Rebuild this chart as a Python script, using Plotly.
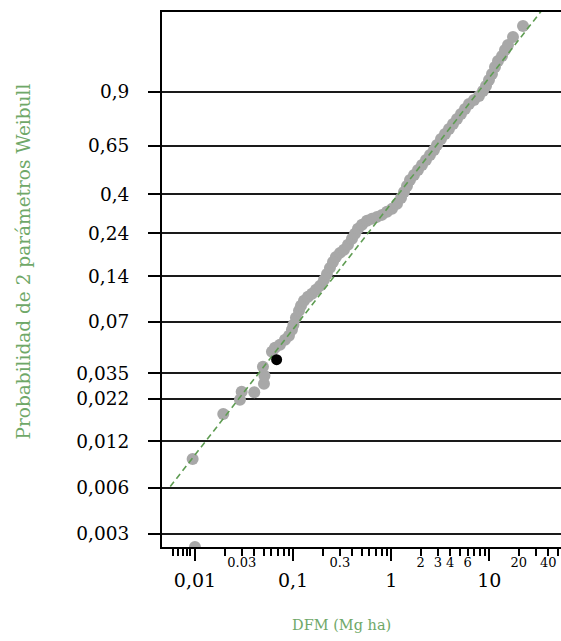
import numpy as np
import plotly.graph_objects as go

# ---- data ----
dfm = [0.01, 0.00947, 0.01943, 0.02875, 0.02992, 0.04022, 0.05051, 0.0511, 0.0493,
       0.0609, 0.0654, 0.0735, 0.0827, 0.0908, 0.0974, 0.1009, 0.1070, 0.1149, 0.1204,
       0.1292, 0.1419, 0.1559, 0.1712, 0.1880, 0.2065, 0.2216, 0.2377, 0.2551, 0.2737,
       0.3006, 0.3303, 0.3627, 0.3985, 0.4276, 0.4587, 0.5040, 0.5667, 0.6371, 0.7166,
       0.8057, 0.9061, 1.019, 1.146, 1.259, 1.351, 1.449, 1.555, 1.708, 1.876, 2.061,
       2.263, 2.486, 2.731, 2.931, 3.219, 3.535, 3.883, 4.266, 4.685, 5.146, 5.653,
       6.210, 6.982, 7.852, 8.627, 9.256, 9.929, 10.65, 11.43, 12.26, 13.48, 14.45,
       15.51, 17.44, 22.06]
prob = [0.00247, 0.00922, 0.01803, 0.0223, 0.0251, 0.0249, 0.0283, 0.0318, 0.0363,
        0.0453, 0.0480, 0.0502, 0.0540, 0.0572, 0.0624, 0.0671, 0.0743, 0.0821, 0.0882,
        0.0948, 0.1003, 0.1047, 0.1108, 0.1172, 0.1275, 0.1386, 0.1507, 0.1636, 0.1752,
        0.1850, 0.1927, 0.2062, 0.2232, 0.2384, 0.2544, 0.2677, 0.2817, 0.2889, 0.2962,
        0.3037, 0.3153, 0.3271, 0.3475, 0.3732, 0.4002, 0.4284, 0.4577, 0.4830, 0.5089,
        0.5354, 0.5623, 0.5896, 0.6170, 0.6447, 0.6777, 0.7049, 0.7317, 0.7578, 0.7832,
        0.8075, 0.8307, 0.8526, 0.8690, 0.8845, 0.9024, 0.9186, 0.9357, 0.9504, 0.9644,
        0.9740, 0.9804, 0.9865, 0.9904, 0.99466, 0.99791]
highlight_dfm = [0.068]
highlight_prob = [0.0403]

fit_shape = 0.82
fit_scale = 2.8
fit_dfm = [0.0056, 40.0]

ytick_prob = [0.9, 0.641, 0.39, 0.24, 0.134, 0.07, 0.033, 0.0226, 0.012, 0.006, 0.003]
ytick_text = ["0,9", "0,65", "0,4", "0,24", "0,14", "0,07", "0,035", "0,022", "0,012", "0,006", "0,003"]

xmajor_vals = [0.01, 0.1, 1, 10]
xmajor_text = ["0,01", "0,1", "1", "10"]
xminor_vals = [0.006, 0.00675, 0.0075, 0.00825, 0.009,
               0.02, 0.03, 0.04, 0.05, 0.06, 0.07, 0.08, 0.09,
               0.2, 0.3, 0.4, 0.5, 0.6, 0.7, 0.8, 0.9,
               2, 3, 4, 5, 6, 7, 8, 9, 20, 30, 40, 50]
xsmall_vals = [0.03, 0.3, 2, 3, 4, 6, 20, 40]
xsmall_text = ["0.03", "0.3", "2", "3", "4", "6", "20", "40"]


def weib(p):
    p = np.asarray(p, dtype=float)
    return np.log(-np.log(1.0 - p))


fit_prob = 1.0 - np.exp(-(np.asarray(fit_dfm) / fit_scale) ** fit_shape)

FONT = "DejaVu Serif"
GREEN_T = "#6fa868"
GREEN_L = "#5e9c52"
GRAY = "#a8a8a8"

fig = go.Figure()
fig.add_trace(go.Scatter(x=dfm, y=weib(prob), mode="markers", cliponaxis=True,
                         marker=dict(color=GRAY, size=12, line=dict(width=0))))
fig.add_trace(go.Scatter(x=fit_dfm, y=weib(fit_prob), mode="lines",
                         line=dict(color=GREEN_L, width=1.6, dash="6px,4px"),
                         hoverinfo="skip"))
fig.add_trace(go.Scatter(x=highlight_dfm, y=weib(highlight_prob), mode="markers",
                         marker=dict(color="black", size=11, line=dict(width=0))))
# invisible trace for secondary x axis (small labels)
fig.add_trace(go.Scatter(x=[1], y=[0], xaxis="x2", mode="markers",
                         marker=dict(opacity=0), hoverinfo="skip"))

xr = [-2.336, 1.731]
fig.update_layout(
    width=561, height=641,
    margin=dict(l=162, r=0, t=12, b=94),
    paper_bgcolor="white", plot_bgcolor="white",
    showlegend=False,
    font=dict(family=FONT, color="black"),
    xaxis=dict(type="log", range=xr, tickmode="array", tickvals=xmajor_vals,
               ticktext=xmajor_text, ticks="outside", ticklen=12, tickwidth=1.5,
               tickcolor="black", tickfont=dict(size=19, family=FONT),
               showline=True, linecolor="black", linewidth=2, mirror=True,
               showgrid=False, zeroline=False, ticklabelstandoff=3,
               minor=dict(tickvals=xminor_vals, ticks="outside", ticklen=7,
                          tickwidth=1.5, tickcolor="black", showgrid=False)),
    xaxis2=dict(type="log", range=xr, overlaying="x", anchor="y", side="bottom",
                tickmode="array", tickvals=xsmall_vals, ticktext=xsmall_text,
                ticks="", tickfont=dict(size=13, family=FONT),
                showline=False, showgrid=False, zeroline=False,
                ticklabelstandoff=6),
    yaxis=dict(range=[-6.003, 2.030], tickmode="array", tickvals=weib(ytick_prob),
               ticktext=ytick_text, ticks="outside", ticklen=12, tickwidth=1.5,
               tickcolor="black", tickfont=dict(size=18.5, family=FONT),
               showline=True, linecolor="black", linewidth=2,
               showgrid=True, gridcolor="#1a1a1a", gridwidth=1.5,
               zeroline=False, ticklabelstandoff=15),
    annotations=[
        dict(text="Probabilidad de 2 parámetros Weibull", xref="paper", yref="paper",
             x=-0.348, y=0.534, textangle=-90, showarrow=False,
             font=dict(size=18.5, color=GREEN_T, family=FONT),
             xanchor="center", yanchor="middle"),
        dict(text="DFM (Mg ha)", xref="paper", yref="paper",
             x=0.451, y=-0.145, showarrow=False,
             font=dict(size=14.5, color=GREEN_T, family=FONT),
             xanchor="center", yanchor="middle"),
    ],
)

fig.write_html("out.html")
